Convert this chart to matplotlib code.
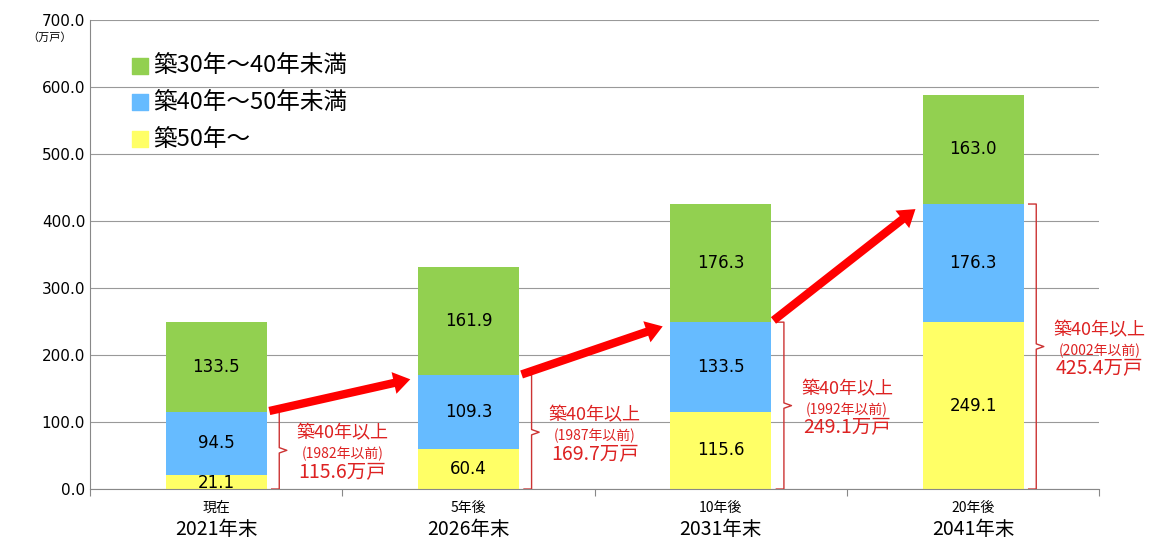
import matplotlib
matplotlib.use("Agg")
import matplotlib.pyplot as plt
import numpy as np

plt.rcParams["font.family"] = ["Noto Sans CJK JP"]

sub_labels = ["現在", "5年後", "10年後", "20年後"]
year_labels = ["2021年末", "2026年末", "2031年末", "2041年末"]
y50 = [21.1, 60.4, 115.6, 249.1]
y40 = [94.5, 109.3, 133.5, 176.3]
y30 = [133.5, 161.9, 176.3, 163.0]
brace_years = ["1982年以前", "1987年以前", "1992年以前", "2002年以前"]
brace_totals = ["115.6万戸", "169.7万戸", "249.1万戸", "425.4万戸"]

c_y, c_b, c_g = "#FFFF66", "#66BBFF", "#92D050"
fig = plt.figure(figsize=(11.75, 5.57), dpi=100)
ax = fig.add_axes([0.0766, 0.122, 0.859, 0.842])
x = np.arange(4)
w = 0.4
ax.bar(x, y50, w, color=c_y, zorder=2)
ax.bar(x, y40, w, bottom=y50, color=c_b, zorder=2)
bot3 = np.array(y50) + np.array(y40)
ax.bar(x, y30, w, bottom=bot3, color=c_g, zorder=2)
for i in range(4):
    ax.text(x[i], y50[i] / 2 if y50[i] > 40 else y50[i] / 2 - 2, f"{y50[i]:.1f}", ha="center", va="center", fontsize=12, fontfamily="DejaVu Sans", zorder=4)
    ax.text(x[i], y50[i] + y40[i] / 2, f"{y40[i]:.1f}", ha="center", va="center", fontsize=12, fontfamily="DejaVu Sans", zorder=4)
    ax.text(x[i], bot3[i] + y30[i] / 2, f"{y30[i]:.1f}", ha="center", va="center", fontsize=12, fontfamily="DejaVu Sans", zorder=4)

ax.set_xlim(-0.5, 3.5)
ax.set_ylim(0, 700)
ax.set_yticks(np.arange(0, 701, 100))
ax.set_yticklabels([f"{v:.1f}" for v in np.arange(0, 701, 100)], fontfamily="DejaVu Sans", fontsize=11)
ax.grid(axis="y", color="#999999", lw=0.8, zorder=0)
for s in ["top", "right"]:
    ax.spines[s].set_visible(False)
ax.spines["left"].set_color("#888888")
ax.spines["bottom"].set_color("#888888")
ax.set_xticks(np.arange(-0.5, 3.6, 1))
ax.set_xticklabels([])
ax.tick_params(axis="x", length=5, color="#888888")
ax.tick_params(axis="y", length=0)
for i in range(4):
    ax.text(x[i], -18, sub_labels[i], ha="center", va="top", fontsize=10)
    ax.text(x[i], -45, year_labels[i], ha="center", va="top", fontsize=14)
ax.text(-0.66, 682, "（万戸）", ha="center", va="top", fontsize=8, clip_on=False)

# arrows
for i in range(3):
    ax.annotate("", xy=(x[i + 1] - w / 2 - 0.02, bot3[i + 1] - 5), xytext=(x[i] + w / 2, bot3[i]),
                arrowprops=dict(arrowstyle="simple,head_width=1.6,head_length=1.2,tail_width=0.6",
                                color="#FF0000", lw=0), zorder=5)

# braces
for i in range(4):
    xb = x[i] + w / 2 + 0.02
    top = bot3[i]
    mid = top / 2
    d = 0.03
    ys = [0, 0, 3, mid - 4, mid, mid + 4, top - 3, top, top]
    xs = [xb, xb + d, xb + d, xb + d, xb + 2 * d, xb + d, xb + d, xb + d, xb]
    ax.plot(xs, ys, color="#CC3333", lw=1, zorder=3)
    tx = xb + 0.28
    ax.text(tx, mid + 25, "築40年以上", ha="center", va="center", fontsize=13, color="#DD2222")
    ax.text(tx, mid - 6, f"({brace_years[i]})", ha="center", va="center", fontsize=10, color="#DD2222")
    ax.text(tx, mid - 33, brace_totals[i], ha="center", va="center", fontsize=14, color="#DD2222")

# legend
for k, (lab, col) in enumerate([("築30年～40年未満", c_g), ("築40年～50年未満", c_b), ("築50年～", c_y)]):
    yy = 632 - k * 55
    ax.scatter([-0.3], [yy], marker="s", s=140, color=col, zorder=5)
    ax.text(-0.25, yy, lab, va="center", ha="left", fontsize=17)

fig.savefig("out.png", dpi=100)
